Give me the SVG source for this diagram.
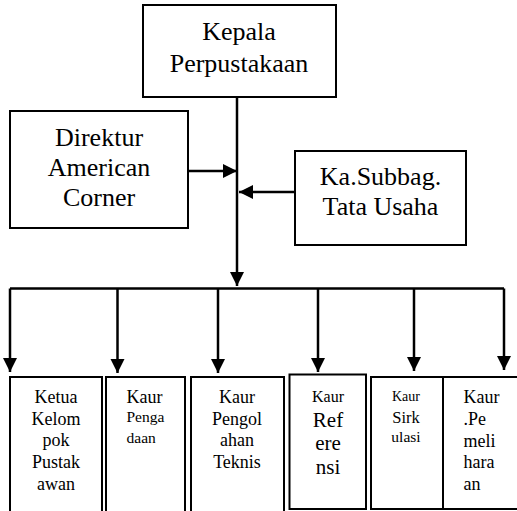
<svg xmlns="http://www.w3.org/2000/svg" width="517" height="511" viewBox="0 0 517 511">
<style>
.box{fill:#fff;stroke:#000;stroke-width:2}
.ln{fill:none;stroke:#000;stroke-width:2.5}
.big{font-size:26px;text-anchor:middle}
.m{text-anchor:middle}
</style>
<defs>
<marker id="ah" viewBox="0 0 10 10" refX="10" refY="5" markerWidth="14" markerHeight="15" markerUnits="userSpaceOnUse" orient="auto">
<path d="M0,0 L10,5 L0,10 Z" fill="#000"/>
</marker>
</defs>
<rect width="517" height="511" fill="#fff"/>
<g id="connectors">
<path class="ln" d="M237,97 V286" marker-end="url(#ah)"/>
<path class="ln" d="M188,171 H237" marker-end="url(#ah)"/>
<path class="ln" d="M295,192 H239" marker-end="url(#ah)"/>
<path class="ln" d="M10,288.5 H504"/>
<path class="ln" d="M10,288.5 V372" marker-end="url(#ah)"/>
<path class="ln" d="M117.5,288.5 V373" marker-end="url(#ah)"/>
<path class="ln" d="M218,288.5 V373" marker-end="url(#ah)"/>
<path class="ln" d="M318,288.5 V372" marker-end="url(#ah)"/>
<path class="ln" d="M414,288.5 V371" marker-end="url(#ah)"/>
<path class="ln" d="M504,288.5 V370" marker-end="url(#ah)"/>
</g>
<g id="kepala" font-family="'Liberation Serif', serif">
<rect class="box" x="143" y="5" width="193" height="92"/>
<text class="big" x="239" y="40">Kepala</text>
<text class="big" x="239" y="71.5">Perpustakaan</text>
</g>
<g id="direktur" font-family="'Liberation Serif', serif">
<rect class="box" x="10" y="111" width="178" height="117"/>
<text class="big" x="99" y="146">Direktur</text>
<text class="big" x="99" y="176">American</text>
<text class="big" x="99" y="206">Corner</text>
</g>
<g id="kasubbag" font-family="'Liberation Serif', serif">
<rect class="box" x="295" y="151" width="171" height="94"/>
<text class="big" x="380.5" y="185">Ka.Subbag.</text>
<text class="big" x="380.5" y="215">Tata Usaha</text>
</g>
<g id="ketua" font-family="'Liberation Serif', serif">
<rect class="box" x="10" y="377" width="92" height="145"/>
<text class="m" x="56" font-size="18" y="403">Ketua</text>
<text class="m" x="56" font-size="18" y="425">Kelom</text>
<text class="m" x="56" font-size="18" y="446">pok</text>
<text class="m" x="56" font-size="18" y="468">Pustak</text>
<text class="m" x="56" font-size="18" y="490">awan</text>
</g>
<g id="pengadaan" font-family="'Liberation Serif', serif">
<rect class="box" x="106" y="377" width="79" height="145"/>
<text x="126.5" font-size="18" y="403">Kaur</text>
<text x="126.5" font-size="15.5" y="422">Penga</text>
<text x="126.5" font-size="15.5" y="443">daan</text>
</g>
<g id="pengolahan" font-family="'Liberation Serif', serif">
<rect class="box" x="191" y="377" width="93" height="145"/>
<text class="m" x="237" font-size="18" y="403">Kaur</text>
<text class="m" x="237" font-size="18" y="425">Pengol</text>
<text class="m" x="237" font-size="18" y="446">ahan</text>
<text class="m" x="237" font-size="18" y="468">Teknis</text>
</g>
<g id="referensi" font-family="'Liberation Serif', serif">
<rect class="box" x="289.5" y="374.5" width="76.5" height="134.5"/>
<text class="m" x="328" font-size="16" y="402">Kaur</text>
<text class="m" x="328" font-size="21" y="427">Ref</text>
<text class="m" x="328" font-size="21" y="450">ere</text>
<text class="m" x="328" font-size="21" y="474">nsi</text>
</g>
<g id="sirkulasi" font-family="'Liberation Serif', serif">
<rect class="box" x="371" y="377" width="72" height="132"/>
<text class="m" x="406" font-size="14" y="401">Kaur</text>
<text class="m" x="406" font-size="16.5" y="423">Sirk</text>
<text class="m" x="406" font-size="15.5" y="442">ulasi</text>
</g>
<g id="pemeliharaan" font-family="'Liberation Serif', serif">
<rect class="box" x="443" y="377" width="80" height="132"/>
<text x="463.5" font-size="18" y="403">Kaur</text>
<text x="463.5" font-size="18" y="425">.Pe</text>
<text x="463.5" font-size="18" y="447">meli</text>
<text x="463.5" font-size="18" y="468">hara</text>
<text x="463.5" font-size="18" y="490">an</text>
</g>
</svg>
